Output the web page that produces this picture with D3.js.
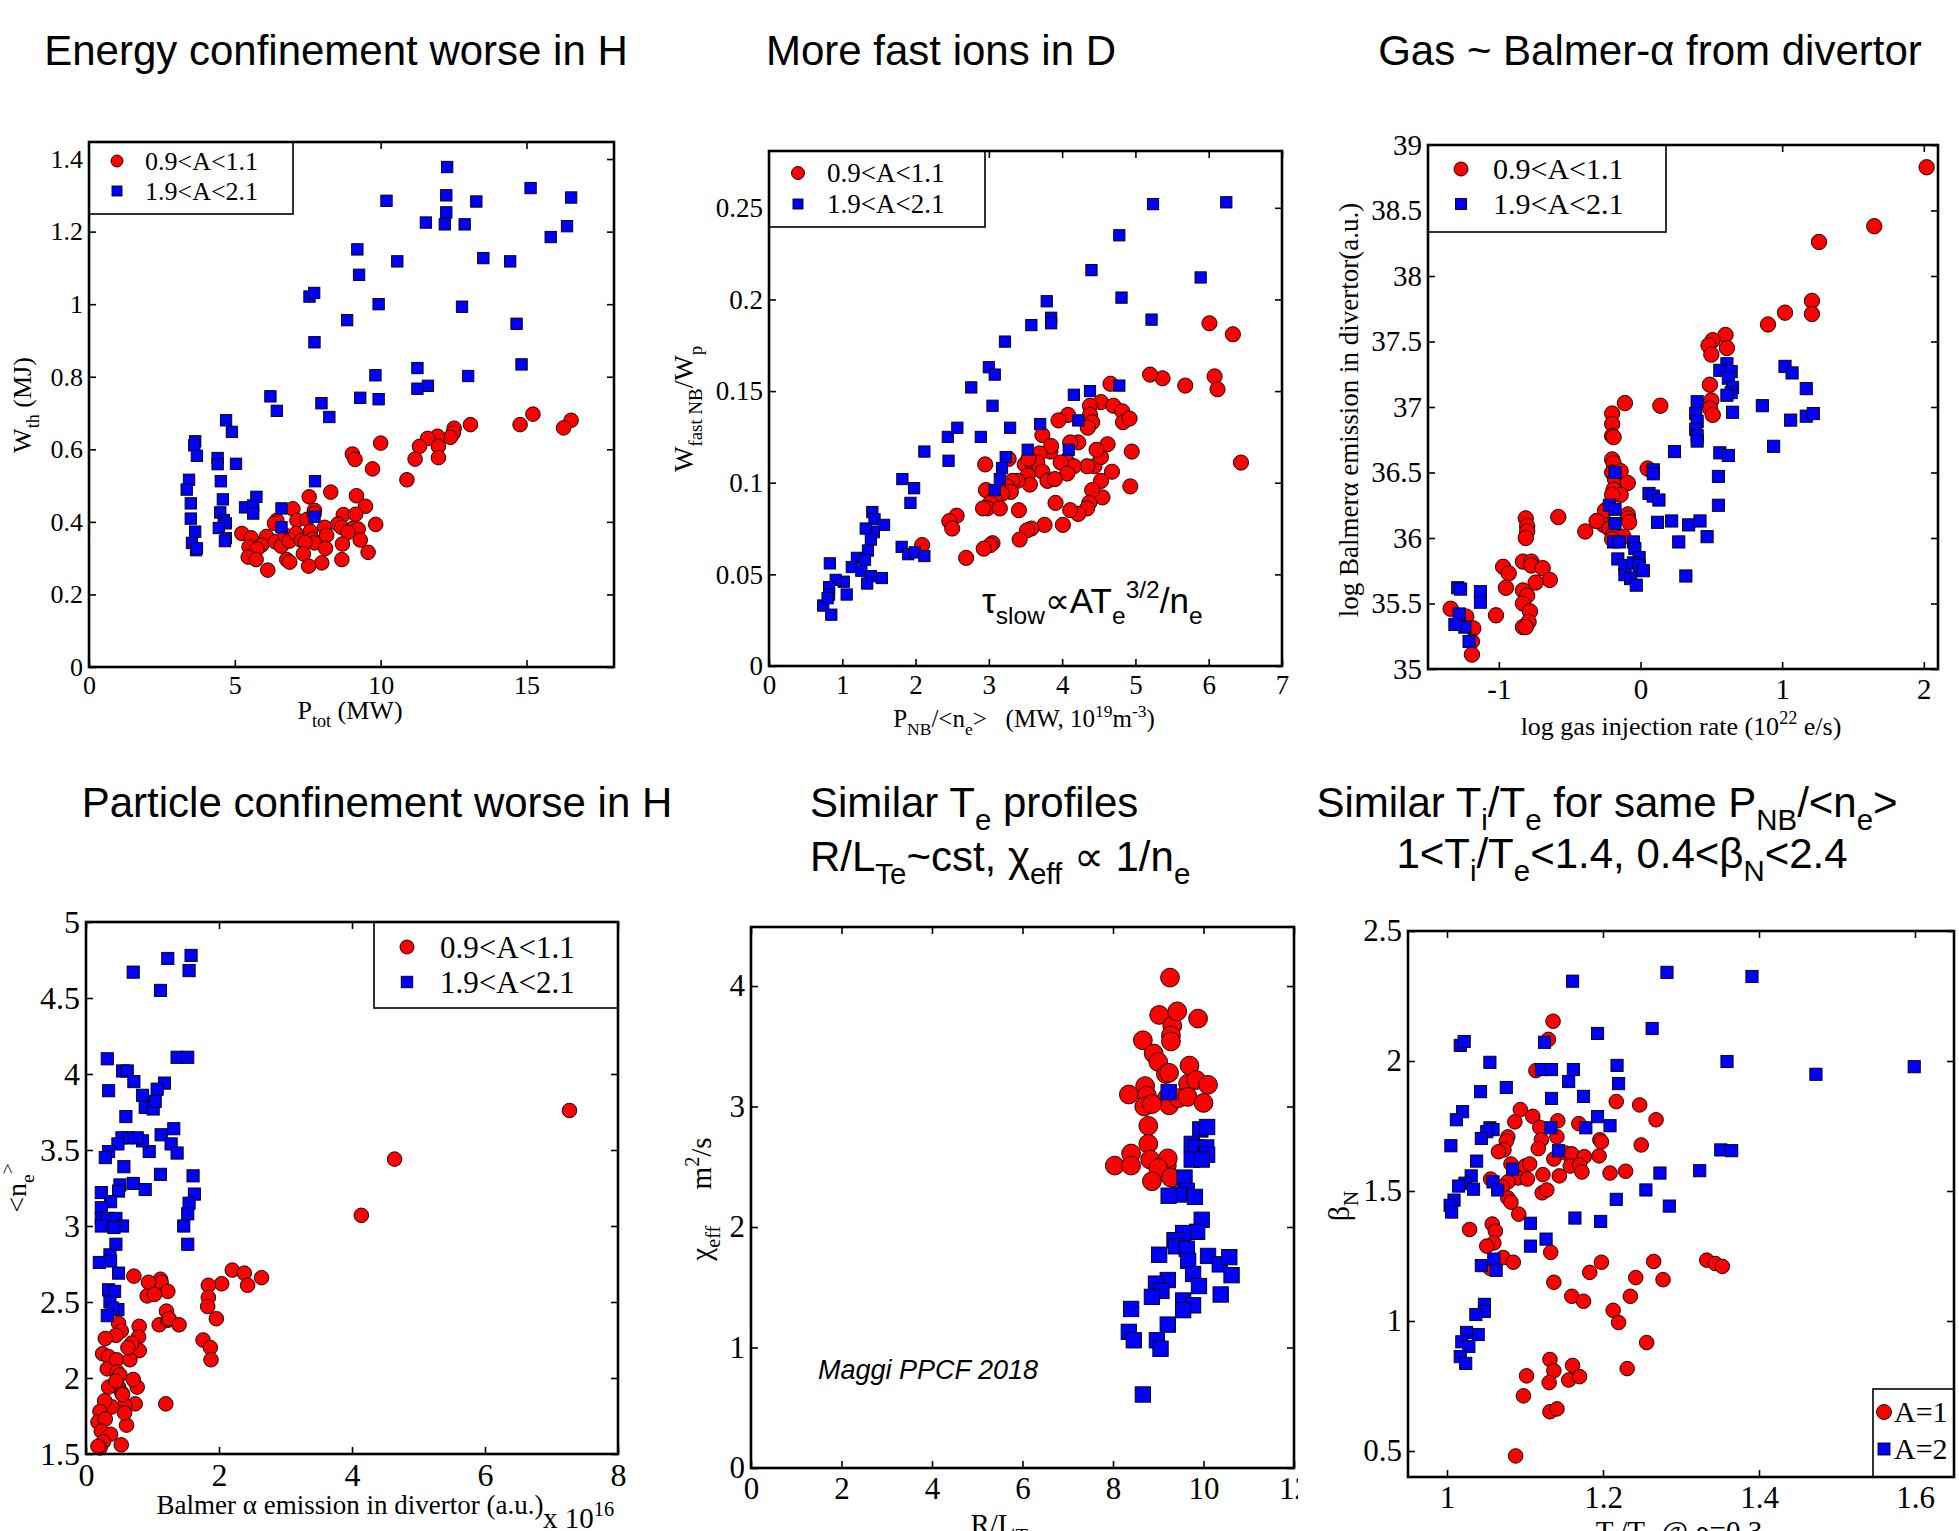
<!DOCTYPE html>
<html>
<head>
<meta charset="utf-8">
<script src="https://cdn.jsdelivr.net/npm/d3@7.9.0/dist/d3.min.js"></script>
<style>
  html, body { margin: 0; padding: 0; background: #fff; overflow: hidden; }
  svg { display: block; }
  text { white-space: pre; }
</style>
</head>
<body>
<svg id="fig" width="1959" height="1531"></svg>
<script>
// ---- data ----
// panel 1: P_tot (MW) vs W_th (MJ)
const energyH = [[15.22,0.697],[16.53,0.68],[16.27,0.659],[14.78,0.668],[13.08,0.668],[12.52,0.658],[12.49,0.645],[12.39,0.633],[11.95,0.636],[11.61,0.63],[11.33,0.608],[11.98,0.608],[11.98,0.577],[11.18,0.573],[10.9,0.516],[10.0,0.617],[9.03,0.587],[9.12,0.572],[9.72,0.546],[8.29,0.482],[9.17,0.472],[9.48,0.443],[7.55,0.469],[7.73,0.432],[8.72,0.42],[9.14,0.421],[6.99,0.436],[6.44,0.404],[6.36,0.396],[7.13,0.404],[7.48,0.407],[7.72,0.423],[8.08,0.385],[8.53,0.394],[8.66,0.385],[9.83,0.393],[9.05,0.382],[9.23,0.38],[8.88,0.371],[5.24,0.368],[5.56,0.356],[6.09,0.36],[5.92,0.336],[5.49,0.331],[5.76,0.325],[6.39,0.345],[6.59,0.333],[6.73,0.363],[6.87,0.347],[7.1,0.368],[7.28,0.349],[7.59,0.374],[7.66,0.352],[7.73,0.342],[7.41,0.343],[8.15,0.363],[8.69,0.339],[9.3,0.35],[5.46,0.303],[5.73,0.296],[6.78,0.296],[6.88,0.289],[7.35,0.312],[8.11,0.327],[9.57,0.316],[8.67,0.296],[7.98,0.287],[7.53,0.278],[6.13,0.267]];
const energyD = [[12.28,1.378],[10.2,1.285],[12.25,1.30],[13.28,1.283],[15.14,1.32],[16.53,1.294],[12.25,1.253],[11.55,1.225],[12.2,1.22],[12.88,1.22],[15.83,1.185],[16.39,1.215],[9.2,1.151],[10.57,1.118],[13.52,1.127],[14.44,1.118],[9.26,1.081],[7.56,1.021],[7.72,1.031],[9.93,1.0],[12.79,0.993],[8.85,0.956],[14.66,0.946],[7.73,0.895],[14.83,0.834],[11.26,0.824],[9.82,0.804],[13.0,0.802],[11.62,0.775],[11.26,0.767],[6.22,0.746],[6.44,0.706],[7.97,0.727],[9.3,0.742],[9.93,0.738],[8.24,0.689],[4.7,0.68],[4.9,0.648],[3.64,0.622],[3.61,0.611],[3.7,0.582],[4.41,0.576],[4.41,0.559],[5.04,0.56],[3.43,0.516],[4.52,0.512],[7.75,0.512],[3.35,0.489],[4.59,0.462],[5.74,0.469],[3.49,0.451],[5.35,0.44],[5.63,0.445],[5.63,0.423],[6.6,0.437],[4.5,0.426],[4.62,0.405],[3.49,0.409],[4.69,0.396],[7.73,0.414],[4.45,0.383],[3.64,0.373],[6.6,0.385],[4.69,0.355],[4.66,0.347],[3.53,0.342],[3.67,0.322],[3.7,0.327]];

// panel 2: P_NB/<n_e> vs W_fastNB/W_p
const fastH = [[6.44,0.111],[6.33,0.181],[6.01,0.187],[6.08,0.158],[6.12,0.151],[5.68,0.153],[5.37,0.157],[5.2,0.159],[4.66,0.154],[4.53,0.144],[4.7,0.142],[4.38,0.142],[4.38,0.137],[4.41,0.133],[4.35,0.13],[4.82,0.139],[4.83,0.133],[4.92,0.135],[4.08,0.137],[3.95,0.134],[4.95,0.117],[4.62,0.121],[4.93,0.098],[4.68,0.106],[4.53,0.101],[4.55,0.092],[4.41,0.096],[4.37,0.089],[4.34,0.086],[4.22,0.083],[4.11,0.085],[4.44,0.109],[4.53,0.114],[4.47,0.118],[4.34,0.109],[4.22,0.122],[4.11,0.122],[4.06,0.112],[4.16,0.109],[3.98,0.111],[4.07,0.105],[3.84,0.117],[3.73,0.126],[3.85,0.12],[3.69,0.116],[3.66,0.111],[3.49,0.11],[3.54,0.113],[3.73,0.106],[3.53,0.104],[3.56,0.099],[3.8,0.101],[3.9,0.102],[3.39,0.101],[3.32,0.101],[3.25,0.098],[3.3,0.095],[3.18,0.094],[3.27,0.113],[2.95,0.11],[2.96,0.096],[3.08,0.091],[3.02,0.089],[2.98,0.086],[2.92,0.086],[3.15,0.086],[3.41,0.085],[3.76,0.077],[3.58,0.075],[3.52,0.074],[3.42,0.069],[4.01,0.077],[3.91,0.089],[3.05,0.067],[3.02,0.066],[2.93,0.064],[2.69,0.059],[2.56,0.082],[2.46,0.079],[2.5,0.075],[2.09,0.066]];
const fastD = [[6.24,0.253],[5.24,0.252],[4.78,0.235],[4.4,0.216],[5.89,0.212],[3.79,0.199],[4.81,0.201],[3.85,0.19],[3.85,0.187],[3.58,0.186],[5.22,0.189],[3.22,0.177],[3.0,0.163],[3.08,0.159],[2.76,0.152],[4.16,0.148],[4.38,0.15],[4.78,0.153],[3.05,0.142],[2.44,0.125],[2.57,0.13],[2.89,0.125],[3.29,0.13],[3.7,0.132],[4.22,0.134],[2.12,0.117],[2.45,0.112],[3.53,0.118],[4.09,0.118],[3.23,0.114],[3.18,0.108],[3.15,0.102],[3.08,0.096],[1.82,0.102],[1.98,0.097],[1.93,0.089],[1.41,0.084],[1.44,0.08],[1.57,0.077],[1.43,0.073],[1.32,0.075],[1.39,0.069],[1.35,0.063],[1.81,0.065],[1.9,0.061],[1.99,0.062],[2.12,0.06],[1.2,0.059],[1.31,0.058],[1.13,0.054],[1.26,0.052],[0.83,0.056],[1.39,0.049],[1.54,0.048],[1.34,0.045],[1.02,0.046],[0.91,0.047],[0.82,0.043],[0.82,0.039],[1.06,0.039],[0.74,0.033],[0.85,0.028],[0.8,0.037]];

// panel 3: log gas injection rate vs log Balmer-alpha
const gasH = [[2.02,38.83],[1.65,38.38],[1.26,38.26],[1.21,37.81],[1.21,37.71],[1.02,37.72],[0.9,37.63],[0.6,37.55],[0.51,37.51],[0.48,37.47],[0.5,37.4],[0.61,37.45],[0.49,37.17],[0.5,37.05],[0.49,36.99],[0.51,36.94],[0.14,37.01],[-0.11,37.03],[-0.2,36.95],[-0.2,36.87],[-0.2,36.78],[-0.19,36.77],[-0.2,36.6],[-0.19,36.57],[-0.2,36.5],[-0.18,36.45],[-0.14,36.51],[-0.09,36.42],[-0.19,36.37],[-0.14,36.33],[-0.2,36.33],[0.05,36.53],[-0.25,36.21],[-0.09,36.18],[-0.09,36.15],[-0.08,36.12],[-0.26,36.1],[-0.31,36.13],[-0.22,36.07],[-0.19,36.03],[-0.12,36.01],[-0.2,35.99],[-0.39,36.05],[-0.58,36.16],[-0.81,36.15],[-0.8,36.09],[-0.8,36.05],[-0.81,36.0],[-0.83,35.82],[-0.77,35.82],[-0.77,35.79],[-0.69,35.77],[-0.64,35.68],[-0.74,35.66],[-0.97,35.78],[-0.93,35.73],[-0.95,35.62],[-0.83,35.6],[-0.8,35.56],[-0.83,35.5],[-0.78,35.44],[-0.79,35.36],[-0.83,35.32],[-0.81,35.32],[-1.02,35.41],[-1.34,35.46],[-1.23,35.4],[-1.18,35.31],[-1.19,35.21],[-1.19,35.11]];
const gasD = [[1.02,37.31],[1.07,37.26],[1.17,37.14],[1.17,36.93],[1.22,36.95],[1.06,36.9],[0.86,37.01],[0.94,36.7],[0.61,37.33],[0.56,37.28],[0.64,37.27],[0.62,37.22],[0.65,37.15],[0.64,37.11],[0.61,37.09],[0.65,36.96],[0.4,37.04],[0.39,36.95],[0.4,36.89],[0.39,36.83],[0.4,36.78],[0.4,36.74],[0.24,36.66],[0.56,36.65],[0.62,36.63],[0.55,36.47],[0.55,36.25],[0.09,36.52],[0.09,36.49],[0.06,36.34],[0.09,36.32],[0.13,36.29],[0.12,36.12],[0.22,36.13],[0.34,36.1],[0.42,36.13],[0.47,36.01],[0.27,35.97],[0.32,35.71],[-0.18,36.5],[-0.22,36.25],[-0.18,36.22],[-0.18,36.11],[-0.19,35.97],[-0.15,35.97],[-0.05,35.97],[-0.04,35.92],[-0.16,35.84],[-0.11,35.79],[-0.01,35.85],[-0.05,35.81],[-0.01,35.79],[0.02,35.75],[-0.11,35.72],[-0.07,35.69],[-0.03,35.64],[-1.29,35.62],[-1.27,35.61],[-1.13,35.59],[-1.13,35.51],[-1.28,35.42],[-1.24,35.32],[-1.31,35.34],[-1.21,35.21]];

// panel 4: Balmer-alpha (x 1e16) vs <n_e>
const densH = [[7.27,3.76],[4.64,3.44],[4.14,3.07],[2.2,2.71],[2.38,2.69],[2.64,2.66],[2.43,2.61],[2.04,2.62],[1.84,2.61],[1.84,2.53],[1.83,2.47],[1.96,2.39],[1.76,2.25],[1.87,2.2],[1.88,2.12],[0.72,2.67],[1.12,2.65],[1.13,2.63],[0.94,2.63],[1.23,2.57],[0.92,2.54],[1.03,2.55],[1.21,2.44],[1.1,2.35],[1.23,2.38],[1.25,2.39],[1.4,2.35],[1.2,1.83],[0.8,2.34],[0.79,2.27],[0.8,2.18],[0.77,1.94],[0.74,1.83],[0.61,1.69],[0.53,1.56],[0.49,2.36],[0.53,2.31],[0.45,2.28],[0.29,2.26],[0.25,2.16],[0.34,2.14],[0.32,2.06],[0.46,2.12],[0.47,2.04],[0.51,2.02],[0.49,1.94],[0.54,1.9],[0.58,1.82],[0.58,1.77],[0.69,2.23],[0.66,2.12],[0.71,1.99],[0.63,2.2],[0.39,1.81],[0.28,1.85],[0.34,1.94],[0.21,1.78],[0.18,1.71],[0.29,1.73],[0.23,1.65],[0.37,1.63],[0.26,1.58],[0.21,1.54],[0.18,1.55],[0.45,1.98],[0.55,1.89]];
const densD = [[1.58,4.78],[1.23,4.76],[1.55,4.68],[0.71,4.67],[1.12,4.55],[1.37,4.11],[1.53,4.11],[0.32,4.1],[0.34,3.89],[0.55,4.02],[0.62,4.02],[0.72,3.95],[1.18,3.94],[1.07,3.9],[0.85,3.86],[0.89,3.78],[1.01,3.77],[1.04,3.82],[0.6,3.72],[1.13,3.6],[1.32,3.64],[1.28,3.54],[1.37,3.48],[0.95,3.49],[0.85,3.56],[0.77,3.58],[0.63,3.58],[0.54,3.58],[0.48,3.54],[0.34,3.49],[0.29,3.45],[0.57,3.39],[1.12,3.34],[1.61,3.33],[1.63,3.21],[1.55,3.15],[1.53,3.08],[1.47,3.0],[1.53,2.88],[0.71,3.28],[0.89,3.24],[0.51,3.27],[0.49,3.23],[0.23,3.22],[0.37,3.16],[0.23,3.12],[0.23,3.05],[0.32,3.05],[0.45,3.05],[0.55,3.0],[0.42,2.99],[0.23,3.0],[0.45,2.88],[0.36,2.81],[0.37,2.77],[0.2,2.76],[0.49,2.69],[0.34,2.58],[0.43,2.57],[0.36,2.5],[0.48,2.45],[0.4,2.46],[0.32,2.41]];

// panel 5: R/L_Te vs chi_eff
const chiH = [[9.26,4.07],[9.02,3.76],[9.31,3.67],[9.42,3.79],[9.88,3.73],[9.28,3.59],[9.28,3.54],[8.66,3.55],[8.9,3.44],[9.0,3.37],[9.17,3.27],[9.24,3.28],[9.69,3.34],[9.66,3.19],[9.84,3.22],[10.1,3.18],[8.71,3.17],[8.35,3.1],[8.75,3.09],[9.19,3.07],[9.24,3.01],[9.45,3.07],[9.65,3.08],[10.0,3.03],[8.69,3.0],[8.86,3.02],[8.78,2.84],[8.78,2.69],[8.4,2.61],[8.82,2.56],[8.04,2.51],[8.4,2.51],[9.19,2.51],[9.21,2.57],[9.0,2.49],[8.86,2.38],[9.28,2.41]];
const chiD = [[9.23,3.12],[9.93,2.81],[10.08,2.83],[9.74,2.69],[9.84,2.66],[10.06,2.66],[10.08,2.6],[9.74,2.56],[9.96,2.56],[9.58,2.41],[9.63,2.3],[9.45,2.27],[9.23,2.26],[9.81,2.25],[9.96,2.06],[9.86,1.96],[9.55,1.95],[9.36,1.89],[9.39,1.84],[9.63,1.82],[9.66,1.72],[9.02,1.77],[10.1,1.76],[10.36,1.69],[10.57,1.75],[10.62,1.6],[9.77,1.61],[9.9,1.51],[9.21,1.56],[8.95,1.53],[9.07,1.47],[8.86,1.42],[10.38,1.44],[9.55,1.39],[9.77,1.35],[9.55,1.31],[8.4,1.32],[9.21,1.19],[8.35,1.13],[8.46,1.06],[8.97,1.06],[9.05,0.99],[8.66,0.61]];

// panel 6: Ti/Te vs beta_N
const betaH = [[1.136,2.153],[1.13,2.083],[1.114,1.963],[1.217,1.844],[1.247,1.831],[1.268,1.774],[1.094,1.813],[1.087,1.766],[1.11,1.787],[1.142,1.77],[1.169,1.759],[1.119,1.745],[1.141,1.708],[1.121,1.697],[1.078,1.708],[1.076,1.692],[1.196,1.697],[1.198,1.689],[1.249,1.677],[1.117,1.663],[1.073,1.658],[1.066,1.651],[1.137,1.623],[1.152,1.646],[1.16,1.643],[1.176,1.632],[1.195,1.635],[1.158,1.596],[1.17,1.6],[1.173,1.573],[1.144,1.558],[1.123,1.563],[1.209,1.569],[1.229,1.576],[1.082,1.604],[1.1,1.596],[1.106,1.604],[1.091,1.55],[1.103,1.546],[1.078,1.535],[1.056,1.546],[1.071,1.516],[1.078,1.473],[1.082,1.457],[1.092,1.411],[1.122,1.493],[1.128,1.504],[1.029,1.352],[1.058,1.373],[1.062,1.346],[1.06,1.3],[1.051,1.288],[1.072,1.244],[1.085,1.226],[1.055,1.203],[1.133,1.264],[1.198,1.226],[1.265,1.229],[1.333,1.234],[1.344,1.221],[1.353,1.21],[1.183,1.187],[1.242,1.167],[1.277,1.159],[1.137,1.149],[1.16,1.095],[1.175,1.076],[1.235,1.095],[1.213,1.041],[1.22,0.994],[1.256,0.917],[1.132,0.852],[1.137,0.809],[1.161,0.829],[1.231,0.817],[1.156,0.773],[1.17,0.786],[1.102,0.789],[1.131,0.763],[1.098,0.712],[1.132,0.651],[1.141,0.662],[1.088,0.481]];
const betaD = [[1.161,2.307],[1.282,2.341],[1.391,2.325],[1.193,2.106],[1.263,2.125],[1.017,2.06],[1.022,2.075],[1.125,2.072],[1.055,1.995],[1.121,1.967],[1.134,1.967],[1.162,1.967],[1.218,1.983],[1.359,1.998],[1.473,1.949],[1.599,1.978],[1.156,1.921],[1.22,1.913],[1.076,1.898],[1.043,1.882],[1.134,1.856],[1.175,1.864],[1.02,1.805],[1.012,1.774],[1.193,1.786],[1.209,1.751],[1.178,1.743],[1.133,1.743],[1.055,1.743],[1.059,1.736],[1.051,1.728],[1.044,1.702],[1.005,1.674],[1.143,1.655],[1.351,1.658],[1.365,1.655],[1.038,1.615],[1.084,1.584],[1.324,1.578],[1.273,1.569],[1.031,1.558],[1.023,1.53],[1.015,1.519],[1.034,1.507],[1.059,1.535],[1.065,1.504],[1.255,1.504],[1.217,1.468],[1.285,1.442],[1.009,1.465],[1.004,1.445],[1.006,1.419],[1.164,1.396],[1.197,1.383],[1.107,1.376],[1.127,1.315],[1.107,1.288],[1.06,1.238],[1.044,1.213],[1.063,1.195],[1.048,1.064],[1.048,1.037],[1.037,1.025],[1.04,0.948],[1.025,0.956],[1.019,0.92],[1.028,0.902],[1.017,0.863],[1.024,0.837]];

// tick values
const ticks1x = [0, 5, 10, 15], ticks1y = [0, 0.2, 0.4, 0.6, 0.8, 1, 1.2, 1.4];
const ticks2x = [0, 1, 2, 3, 4, 5, 6, 7], ticks2y = [0, 0.05, 0.1, 0.15, 0.2, 0.25];
const ticks3x = [-1, 0, 1, 2], ticks3y = [35, 35.5, 36, 36.5, 37, 37.5, 38, 38.5, 39];
const ticks4x = [0, 2, 4, 6, 8], ticks4y = [1.5, 2, 2.5, 3, 3.5, 4, 4.5, 5];
const ticks5x = [0, 2, 4, 6, 8, 10, 12], ticks5y = [0, 1, 2, 3, 4];
const ticks6x = [1, 1.2, 1.4, 1.6], ticks6y = [0.5, 1, 1.5, 2, 2.5];

const legendAB = ['0.9<A<1.1', '1.9<A<2.1'];
const legendA12 = ['A=1', 'A=2'];

// ---- drawing ----
const svg = d3.select('#fig');
const serif = '"Liberation Serif", "Times New Roman", Times, serif';
const sans = '"Liberation Sans", Arial, Helvetica, sans-serif';
const RED = '#ff0000', BLUE = '#0000ff';

// text with sub/superscript parts: 'plain' or ['txt','sub'|'sup']
function rich(sel, parts, size) {
  let shift = 0;
  parts.forEach(p => {
    const [t, mode] = typeof p === 'string' ? [p, ''] : p;
    const target = mode === 'sub' ? size * 0.3 : mode === 'sup' ? -size * 0.42 : 0;
    sel.append('tspan')
      .attr('dy', target - shift)
      .attr('font-size', mode ? size * 0.7 : size)
      .text(t);
    shift = target;
  });
  return sel;
}

function label(x, y, parts, size, opts = {}) {
  const t = svg.append('text')
    .attr('font-family', opts.family || serif)
    .attr('font-style', opts.italic ? 'italic' : null)
    .attr('text-anchor', opts.anchor || 'middle')
    .attr('fill', '#000');
  if (opts.rotate) {
    t.attr('transform', `translate(${x},${y}) rotate(-90)`).attr('y', size * 0.35);
  } else {
    t.attr('x', x).attr('y', y);
  }
  rich(t, parts, size);
  return t;
}

const fmt = d => String(+d.toFixed(2));

function drawPanel(p) {
  const x = d3.scaleLinear().domain(p.xDomain).range([p.left, p.right]);
  const y = d3.scaleLinear().domain(p.yDomain).range([p.bottom, p.top]);
  const g = svg.append('g');
  const tk = 7;

  const styleAxis = (a) => {
    a.select('.domain').remove();
    a.selectAll('.tick line').attr('stroke', '#000').attr('stroke-width', 1.6);
    a.selectAll('.tick text').attr('font-family', serif).attr('font-size', p.tickSize).attr('fill', '#000');
  };

  g.append('g').attr('transform', `translate(0,${p.bottom})`)
    .call(d3.axisBottom(x).tickValues(p.xTicks).tickFormat(fmt).tickSizeInner(-tk).tickSizeOuter(0).tickPadding(p.padX || 9))
    .call(styleAxis);
  g.append('g').attr('transform', `translate(0,${p.top})`)
    .call(d3.axisTop(x).tickValues(p.xTicks).tickFormat('').tickSizeInner(-tk).tickSizeOuter(0))
    .call(styleAxis);
  g.append('g').attr('transform', `translate(${p.left},0)`)
    .call(d3.axisLeft(y).tickValues(p.yTicks).tickFormat(fmt).tickSizeInner(-tk).tickSizeOuter(0).tickPadding(p.padY || 6))
    .call(styleAxis);
  g.append('g').attr('transform', `translate(${p.right},0)`)
    .call(d3.axisRight(y).tickValues(p.yTicks).tickFormat('').tickSizeInner(-tk).tickSizeOuter(0))
    .call(styleAxis);

  // points: red circles first, blue squares on top
  g.append('g').selectAll('circle')
    .data(p.red)
    .join('circle')
    .attr('cx', d => x(d[0]))
    .attr('cy', d => y(d[1]))
    .attr('r', p.r)
    .attr('fill', RED)
    .attr('stroke', '#000')
    .attr('stroke-width', 0.9);
  g.append('g').selectAll('rect')
    .data(p.blue)
    .join('rect')
    .attr('x', d => x(d[0]) - p.s / 2)
    .attr('y', d => y(d[1]) - p.s / 2)
    .attr('width', p.s)
    .attr('height', p.s)
    .attr('fill', BLUE)
    .attr('stroke', '#000')
    .attr('stroke-width', 0.9);

  // legend
  if (p.legend) {
    const L = p.legend;
    const lg = g.append('g');
    lg.append('rect')
      .attr('x', L.x0).attr('y', L.y0)
      .attr('width', L.x1 - L.x0).attr('height', L.y1 - L.y0)
      .attr('fill', '#fff').attr('stroke', '#000').attr('stroke-width', 1.6);
    lg.append('circle').attr('cx', L.mx).attr('cy', L.rows[0]).attr('r', L.r)
      .attr('fill', RED).attr('stroke', '#000').attr('stroke-width', 0.9);
    lg.append('rect').attr('x', L.mx - L.s / 2).attr('y', L.rows[1] - L.s / 2)
      .attr('width', L.s).attr('height', L.s)
      .attr('fill', BLUE).attr('stroke', '#000').attr('stroke-width', 0.9);
    L.labels.forEach((t, i) => {
      lg.append('text').attr('x', L.tx).attr('y', L.rows[i] + L.size * 0.34)
        .attr('font-family', serif).attr('font-size', L.size).text(t);
    });
  }

  // axis box
  g.append('rect')
    .attr('x', p.left).attr('y', p.top)
    .attr('width', p.right - p.left).attr('height', p.bottom - p.top)
    .attr('fill', 'none').attr('stroke', '#000').attr('stroke-width', 2.6);
  return { x, y };
}

// ---- titles ----
const TS = 42;
label(336, 65, ['Energy confinement worse in H'], TS, { family: sans });
label(941, 65, ['More fast ions in D'], TS, { family: sans });
label(1650, 65, ['Gas ~ Balmer-α from divertor'], TS, { family: sans });
label(377, 817, ['Particle confinement worse in H'], TS, { family: sans });
label(810, 817, ['Similar T', ['e', 'sub'], ' profiles'], TS, { family: sans, anchor: 'start' });
label(810, 871, ['R/L', ['Te', 'sub'], '~cst, χ', ['eff', 'sub'], ' ∝ 1/n', ['e', 'sub']], TS, { family: sans, anchor: 'start' });
label(1607, 817, ['Similar T', ['i', 'sub'], '/T', ['e', 'sub'], ' for same P', ['NB', 'sub'], '/<n', ['e', 'sub'], '>'], TS, { family: sans });
label(1622, 868, ['1<T', ['i', 'sub'], '/T', ['e', 'sub'], '<1.4, 0.4<β', ['N', 'sub'], '<2.4'], TS, { family: sans });

// ---- panel 1 ----
drawPanel({
  left: 89, right: 614, top: 142, bottom: 667,
  xDomain: [0, 18], yDomain: [0, 1.447],
  xTicks: ticks1x, yTicks: ticks1y, tickSize: 26,
  red: energyH, blue: energyD, r: 7.3, s: 11.4,
  legend: { x0: 89, y0: 142, x1: 293, y1: 214, mx: 117, rows: [161, 191], r: 6, s: 10, tx: 145, size: 26, labels: legendAB }
});
label(22, 405, ['W', ['th', 'sub'], ' (MJ)'], 26, { rotate: true });
label(350, 719, ['P', ['tot', 'sub'], ' (MW)'], 26);

// ---- panel 2 ----
drawPanel({
  left: 769, right: 1282, top: 151, bottom: 666,
  xDomain: [0, 7], yDomain: [0, 0.281],
  xTicks: ticks2x, yTicks: ticks2y, tickSize: 27,
  red: fastH, blue: fastD, r: 7.6, s: 11.3,
  legend: { x0: 769, y0: 151, x1: 985, y1: 227, mx: 798, rows: [173, 204], r: 6.5, s: 10, tx: 827, size: 27, labels: legendAB }
});
label(684, 409, ['W', ['fast NB', 'sub'], '/W', ['p', 'sub']], 27, { rotate: true });
label(1024, 727, ['P', ['NB', 'sub'], '/<n', ['e', 'sub'], '>   (MW, 10', ['19', 'sup'], 'm', ['-3', 'sup'], ')'], 25);
label(982, 613, ['τ', ['slow', 'sub'], '∝AT', ['e', 'sub'], ['3/2', 'sup'], '/n', ['e', 'sub']], 35, { family: sans, anchor: 'start' });

// ---- panel 3 ----
drawPanel({
  left: 1428, right: 1938, top: 145, bottom: 669,
  xDomain: [-1.5, 2.1], yDomain: [35, 39],
  xTicks: ticks3x, yTicks: ticks3y, tickSize: 29,
  red: gasH, blue: gasD, r: 7.7, s: 12.2,
  legend: { x0: 1428, y0: 145, x1: 1666, y1: 232, mx: 1461, rows: [169, 204], r: 7, s: 11, tx: 1493, size: 30, labels: legendAB }
});
label(1349, 410, ['log Balmerα emission in divertor(a.u.)'], 27, { rotate: true });
label(1681, 735, ['log gas injection rate (10', ['22', 'sup'], ' e/s)'], 26);

// ---- panel 4 ----
drawPanel({
  left: 86, right: 618, top: 922, bottom: 1454,
  xDomain: [0, 8], yDomain: [1.5, 5],
  xTicks: ticks4x, yTicks: ticks4y, tickSize: 32,
  red: densH, blue: densD, r: 7.3, s: 12.2,
  legend: { x0: 374, y0: 922, x1: 618, y1: 1008, mx: 407, rows: [947, 982], r: 7, s: 11.5, tx: 440, size: 31, labels: legendAB }
});
label(16, 1188, ['<n', ['e', 'sub'], ['>', 'sup']], 28, { rotate: true });
label(350, 1514, ['Balmer α emission in divertor (a.u.)'], 27);
label(543, 1528, ['x 10', ['16', 'sup']], 29, { anchor: 'start' });

// ---- panel 5 ----
drawPanel({
  left: 751, right: 1294, top: 927, bottom: 1468,
  xDomain: [0, 12], yDomain: [0, 4.49],
  xTicks: ticks5x, yTicks: ticks5y, tickSize: 31,
  red: chiH, blue: chiD, r: 9.4, s: 15.4
});
label(701, 1199, ['χ', ['eff', 'sub'], '     m', ['2', 'sup'], '/s'], 29, { rotate: true });
label(1003, 1534, ['R/L', ['Te', 'sub']], 29);
label(818, 1379, ['Maggi PPCF 2018'], 27, { family: sans, italic: true, anchor: 'start' });

// panel 6 sits on its own white background, clipping panel 5's last tick label
svg.append('rect').attr('x', 1298).attr('y', 900).attr('width', 661).attr('height', 631).attr('fill', '#fff');

// ---- panel 6 ----
drawPanel({
  left: 1408, right: 1954, top: 931, bottom: 1477,
  xDomain: [0.95, 1.65], yDomain: [0.4, 2.5],
  xTicks: ticks6x, yTicks: ticks6y, tickSize: 31,
  red: betaH, blue: betaD, r: 7.3, s: 12.2,
  legend: { x0: 1873, y0: 1389, x1: 1954, y1: 1477, mx: 1884, rows: [1412, 1449], r: 7.5, s: 12, tx: 1894, size: 30, labels: legendA12 }
});
label(1338, 1206, ['β', ['N', 'sub']], 30, { rotate: true });
label(1679, 1541, ['T', ['i', 'sub'], '/T', ['e', 'sub'], ' @ ρ=0.3'], 29);
</script>
</body>
</html>
